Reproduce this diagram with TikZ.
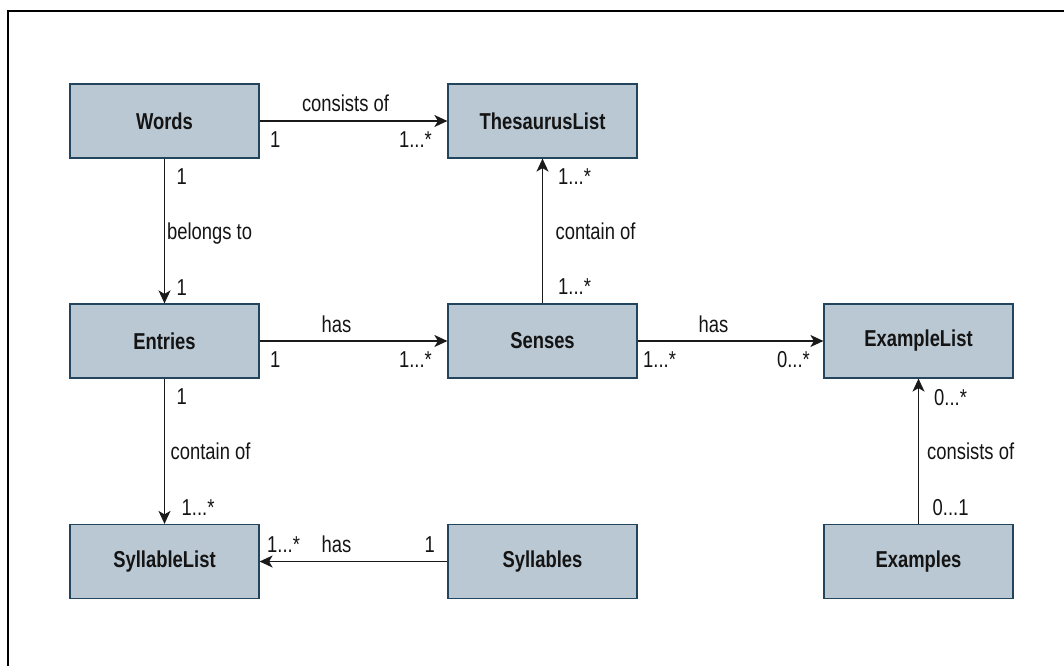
\documentclass[tikz,border=0pt]{standalone}
\usepackage{fontspec}
\setmainfont{Liberation Sans}[FakeStretch=0.8]
\usetikzlibrary{arrows.meta}
\definecolor{boxfill}{HTML}{BAC8D3}
\definecolor{boxline}{HTML}{23445D}
\definecolor{edgeline}{HTML}{1A1A1A}
\begin{document}
\begin{tikzpicture}[x=1pt,y=-1pt,
  entity/.style={draw=boxline,fill=boxfill,line width=1.2pt,minimum width=189pt,
    minimum height=74pt,inner sep=0pt,font=\fontsize{23}{26}\selectfont\bfseries,text=black!92},
  rel/.style={draw=edgeline,line width=1.5pt,-{Stealth[length=13pt,width=12pt,inset=3.5pt]}},
  lbl/.style={inner sep=0pt,font=\fontsize{23}{26}\selectfont,text=black!92}]
  \useasboundingbox (0,0) rectangle (1064,666);
  % outer frame, open to the right and bottom
  \draw[line width=1.8pt,black] (8,666) -- (8,11) -- (1064,11);

  % entities
  \node[entity] (words)    at (164.5,121)   {Words};
  \node[entity] (thes)     at (542.5,121)   {ThesaurusList};
  \node[entity] (entries)  at (164.5,341)   {Entries};
  \node[entity] (senses)   at (542.5,341)   {Senses};
  \node[entity] (exlist)   at (918.5,341)   {ExampleList};
  \node[entity] (syllist)  at (164.5,561.5) {SyllableList};
  \node[entity] (syls)     at (542.5,561.5) {Syllables};
  \node[entity] (examples) at (918.5,561.5) {Examples};

  % relationships
  \draw[rel] (words.east) -- (thes.west);
  \draw[rel] (words.south) -- (entries.north);
  \draw[rel] (senses.north) -- (thes.south);
  \draw[rel] (entries.east) -- (senses.west);
  \draw[rel] (senses.east) -- (exlist.west);
  \draw[rel] (entries.south) -- (syllist.north);
  \draw[rel] (syls.west) -- (syllist.east);
  \draw[rel] (examples.north) -- (exlist.south);

  % Words -> ThesaurusList
  \node[lbl,anchor=base] (l1) at (345.5,112) {consists of};
  \node[lbl,anchor=base west] (m1a) at (270,147) {1};
  \node[lbl,anchor=base east] (m1b) at (432,147) {1...*};

  % Words -> Entries
  \node[lbl,anchor=base west] (m2a) at (176.5,184) {1};
  \node[lbl,anchor=base west] (l2) at (167,239) {belongs to};
  \node[lbl,anchor=base west] (m2b) at (176.5,295) {1};

  % Senses -> ThesaurusList
  \node[lbl,anchor=base west] (m3a) at (558,184) {1...*};
  \node[lbl,anchor=base west] (l3) at (555.5,239) {contain of};
  \node[lbl,anchor=base west] (m3b) at (558,294) {1...*};

  % Entries -> Senses
  \node[lbl,anchor=base] (l4) at (336.5,332) {has};
  \node[lbl,anchor=base west] (m4a) at (270,367) {1};
  \node[lbl,anchor=base east] (m4b) at (432,367) {1...*};

  % Senses -> ExampleList
  \node[lbl,anchor=base] (l5) at (713.5,332) {has};
  \node[lbl,anchor=base west] (m5a) at (643,367) {1...*};
  \node[lbl,anchor=base east] (m5b) at (810,367) {0...*};

  % Entries -> SyllableList
  \node[lbl,anchor=base west] (m6a) at (176.5,404) {1};
  \node[lbl,anchor=base west] (l6) at (170.5,459) {contain of};
  \node[lbl,anchor=base west] (m6b) at (181.5,515) {1...*};

  % Syllables -> SyllableList
  \node[lbl,anchor=base west] (m7a) at (267,552) {1...*};
  \node[lbl,anchor=base] (l7) at (336.5,552) {has};
  \node[lbl,anchor=base east] (m7b) at (435,552) {1};

  % Examples -> ExampleList
  \node[lbl,anchor=base west] (m8a) at (934,405) {0...*};
  \node[lbl,anchor=base west] (l8) at (927,459) {consists of};
  \node[lbl,anchor=base west] (m8b) at (932.5,515) {0...1};
\end{tikzpicture}
\end{document}
